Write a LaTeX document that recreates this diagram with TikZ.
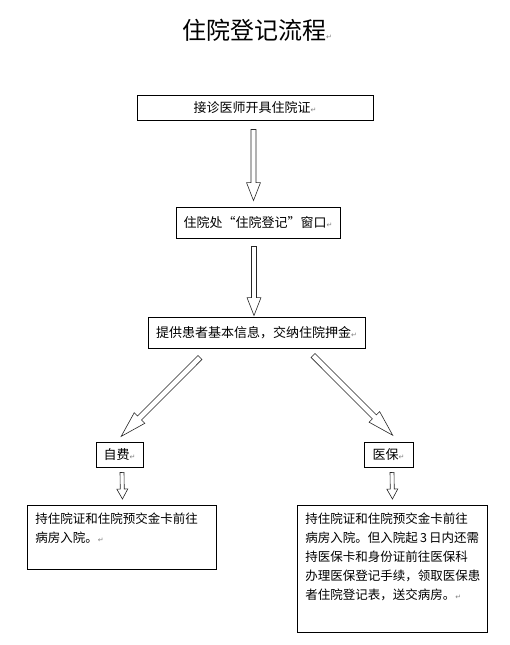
\documentclass[tikz,border=0pt]{standalone}
\usepackage{fontspec}
\usepackage{tikz}
\usetikzlibrary{arrows.meta,positioning,calc}
\newfontfamily\cjk{Noto Sans CJK SC}
\newfontfamily\symb{DejaVu Sans}
\newcommand{\enter}{{\symb\fontsize{7}{7}\selectfont\textcolor{gray}{↵}}}
% hollow block arrow: tail, tip, shaft half width, head half width, head length
\newcommand{\blockarrow}[5]{%
  \draw[hollow] let \p1=(#1), \p2=(#2), \n1={atan2(\y2-\y1,\x2-\x1)}, \n2={veclen(\x2-\x1,\y2-\y1)} in
    [shift={(\p1)}, rotate=\n1]
    (0pt,-#3) -- ({\n2-#5},-#3) -- ({\n2-#5},-#4) -- (\n2,0pt)
    -- ({\n2-#5},#4) -- ({\n2-#5},#3) -- (0pt,#3) -- cycle;}

\begin{document}
\begin{tikzpicture}[x=1pt,y=-1pt,
  box/.style={draw, line width=0.9pt, inner sep=0pt, font=\cjk\fontsize{13}{15}\selectfont},
  txtbox/.style={draw, line width=0.9pt, inner xsep=8pt, inner ysep=7pt, font=\cjk\fontsize{12.5}{19}\selectfont},
  hollow/.style={draw=black!85, line width=0.6pt, fill=white}]
\useasboundingbox (0,0) rectangle (510,645);
\node[font=\cjk\fontsize{24}{24}\selectfont] (title) at (257,30) {住院登记流程\enter};
\node[box, minimum width=236pt, minimum height=25pt] (n1) at (255,107.5) {接诊医师开具住院证\enter};
\node[box, minimum width=164pt, minimum height=31pt] (n2) at (258,222.5) {住院处“住院登记”窗口\enter};
\node[box, minimum width=217pt, minimum height=31pt] (n3) at (256.5,332.5) {提供患者基本信息，交纳住院押金\enter};
\node[box, minimum width=47pt, minimum height=25pt] (zf) at (119.5,454.5) {自费\enter};
\node[box, minimum width=49pt, minimum height=25pt] (yb) at (388.5,454.5) {医保\enter};
\node[txtbox, anchor=north west] (r1) at (27,505) {\parbox[c][50pt][t]{173pt}{\raggedright
持住院证和住院预交金卡前往\\
病房入院。\enter}};
\node[txtbox, anchor=north west] (r2) at (297,505) {\parbox[c][113pt][t]{174pt}{\raggedright
持住院证和住院预交金卡前往\\
病房入院。但入院起\,3\,日内还需\\
持医保卡和身份证前往医保科\\
办理医保登记手续，领取医保患\\
者住院登记表，送交病房。\enter}};

\blockarrow{[xshift=-1.5pt,yshift=-9pt]n1.south}{[xshift=-4.5pt,yshift=6pt]n2.north}{2.5pt}{7pt}{18pt}
\blockarrow{[xshift=-4pt,yshift=-8pt]n2.south}{[xshift=-2.5pt,yshift=1pt]n3.north}{2.5pt}{7pt}{18pt}
\blockarrow{[xshift=-56.5pt,yshift=-9pt]n3.south}{[xshift=1.5pt,yshift=5pt]zf.north}{2.8pt}{7.5pt}{26pt}
\blockarrow{[xshift=56.5pt,yshift=-7pt]n3.south}{[xshift=4.5pt,yshift=6pt]yb.north}{2.8pt}{7.5pt}{26pt}
\blockarrow{[xshift=2.5pt,yshift=-5pt]zf.south}{[xshift=0.5pt,yshift=6pt]r1.north}{2pt}{5.5pt}{10pt}
\blockarrow{[xshift=3.5pt,yshift=-5pt]yb.south}{[yshift=6pt]r2.north}{2pt}{5.5pt}{10pt}
\end{tikzpicture}
\end{document}
